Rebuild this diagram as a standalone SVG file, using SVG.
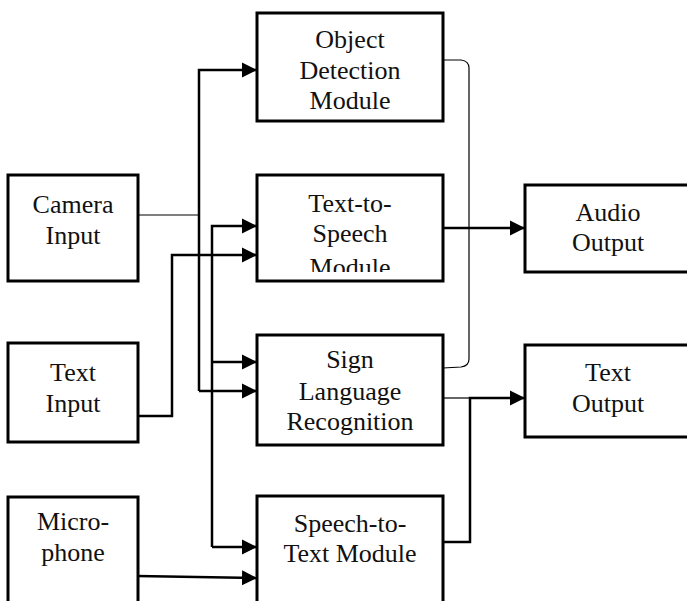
<svg xmlns="http://www.w3.org/2000/svg" width="687" height="601" viewBox="0 0 687 601">
  <style>
    .box { fill: #ffffff; stroke: #000000; stroke-width: 3; }
    .label { font-family: "Liberation Serif", "Times New Roman", serif; font-size: 26px; fill: #111111; text-anchor: middle; }
    .wire { fill: none; stroke: #000000; stroke-width: 2.5; }
    .thin { fill: none; stroke: #000000; stroke-width: 1.2; }
  </style>
  <defs>
    <marker id="arrow" markerUnits="userSpaceOnUse" markerWidth="16" markerHeight="16" viewBox="0 0 16 16" refX="15" refY="8" orient="auto">
      <path d="M0,0.5 L15,8 L0,15.5 Z" fill="#000000"/>
    </marker>
    <clipPath id="ttsClip">
      <rect x="257" y="175" width="186" height="97"/>
    </clipPath>
  </defs>
  <rect width="687" height="601" fill="#ffffff"/>

  <g id="connectors">
    <!-- camera feed splits to detection and sign recognition -->
    <path class="thin" d="M138,215 L199,215"/>
    <path class="wire" d="M199,391 L199,70 L257,70" marker-end="url(#arrow)"/>
    <path class="wire" d="M199,391 L257,391" marker-end="url(#arrow)"/>
    <!-- shared bus to TTS, sign and STT -->
    <path class="wire" d="M212,547 L212,226 L257,226" marker-end="url(#arrow)"/>
    <path class="wire" d="M212,362 L257,362" marker-end="url(#arrow)"/>
    <path class="wire" d="M212,547 L257,547" marker-end="url(#arrow)"/>
    <!-- text input to TTS -->
    <path class="wire" d="M138,416 L172,416 L172,255 L257,255" marker-end="url(#arrow)"/>
    <!-- microphone to STT -->
    <path class="wire" d="M137,576 L257,578" marker-end="url(#arrow)"/>
    <!-- detection / sign bracket -->
    <path class="thin" d="M443,60 L461,60 Q469,61 469,68 L469,359 Q469,366 461,367 L443,368"/>
    <!-- TTS to audio output -->
    <path class="wire" d="M443,228 L525,228" marker-end="url(#arrow)"/>
    <!-- sign and STT to text output -->
    <path class="thin" d="M443,398 L470,398"/>
    <path class="wire" d="M443,542 L470,542 L470,398 L525,398" marker-end="url(#arrow)"/>
  </g>

  <g id="camera-input">
    <rect class="box" x="8" y="175" width="130" height="106"/>
    <text class="label" x="73" y="213">Camera</text>
    <text class="label" x="73" y="244">Input</text>
  </g>

  <g id="text-input">
    <rect class="box" x="8" y="343" width="130" height="99"/>
    <text class="label" x="73" y="381">Text</text>
    <text class="label" x="73" y="412">Input</text>
  </g>

  <g id="microphone">
    <rect class="box" x="8" y="497" width="130" height="110"/>
    <text class="label" x="73" y="530">Micro-</text>
    <text class="label" x="73" y="561">phone</text>
  </g>

  <g id="object-detection">
    <rect class="box" x="257" y="13" width="186" height="108"/>
    <text class="label" x="350" y="48">Object</text>
    <text class="label" x="350" y="79">Detection</text>
    <text class="label" x="350" y="109">Module</text>
  </g>

  <g id="text-to-speech">
    <rect class="box" x="257" y="175" width="186" height="106"/>
    <g clip-path="url(#ttsClip)">
      <text class="label" x="350" y="212">Text-to-</text>
      <text class="label" x="350" y="242">Speech</text>
      <text class="label" x="350" y="276">Module</text>
    </g>
  </g>

  <g id="sign-language-recognition">
    <rect class="box" x="257" y="335" width="186" height="110"/>
    <text class="label" x="350" y="368">Sign</text>
    <text class="label" x="350" y="400">Language</text>
    <text class="label" x="350" y="430">Recognition</text>
  </g>

  <g id="speech-to-text">
    <rect class="box" x="257" y="496" width="186" height="112"/>
    <text class="label" x="350" y="532">Speech-to-</text>
    <text class="label" x="350" y="562">Text Module</text>
  </g>

  <g id="audio-output">
    <rect class="box" x="525" y="185" width="168" height="87"/>
    <text class="label" x="608" y="221">Audio</text>
    <text class="label" x="608" y="251">Output</text>
  </g>

  <g id="text-output">
    <rect class="box" x="525" y="345" width="168" height="92"/>
    <text class="label" x="608" y="381">Text</text>
    <text class="label" x="608" y="412">Output</text>
  </g>
</svg>
